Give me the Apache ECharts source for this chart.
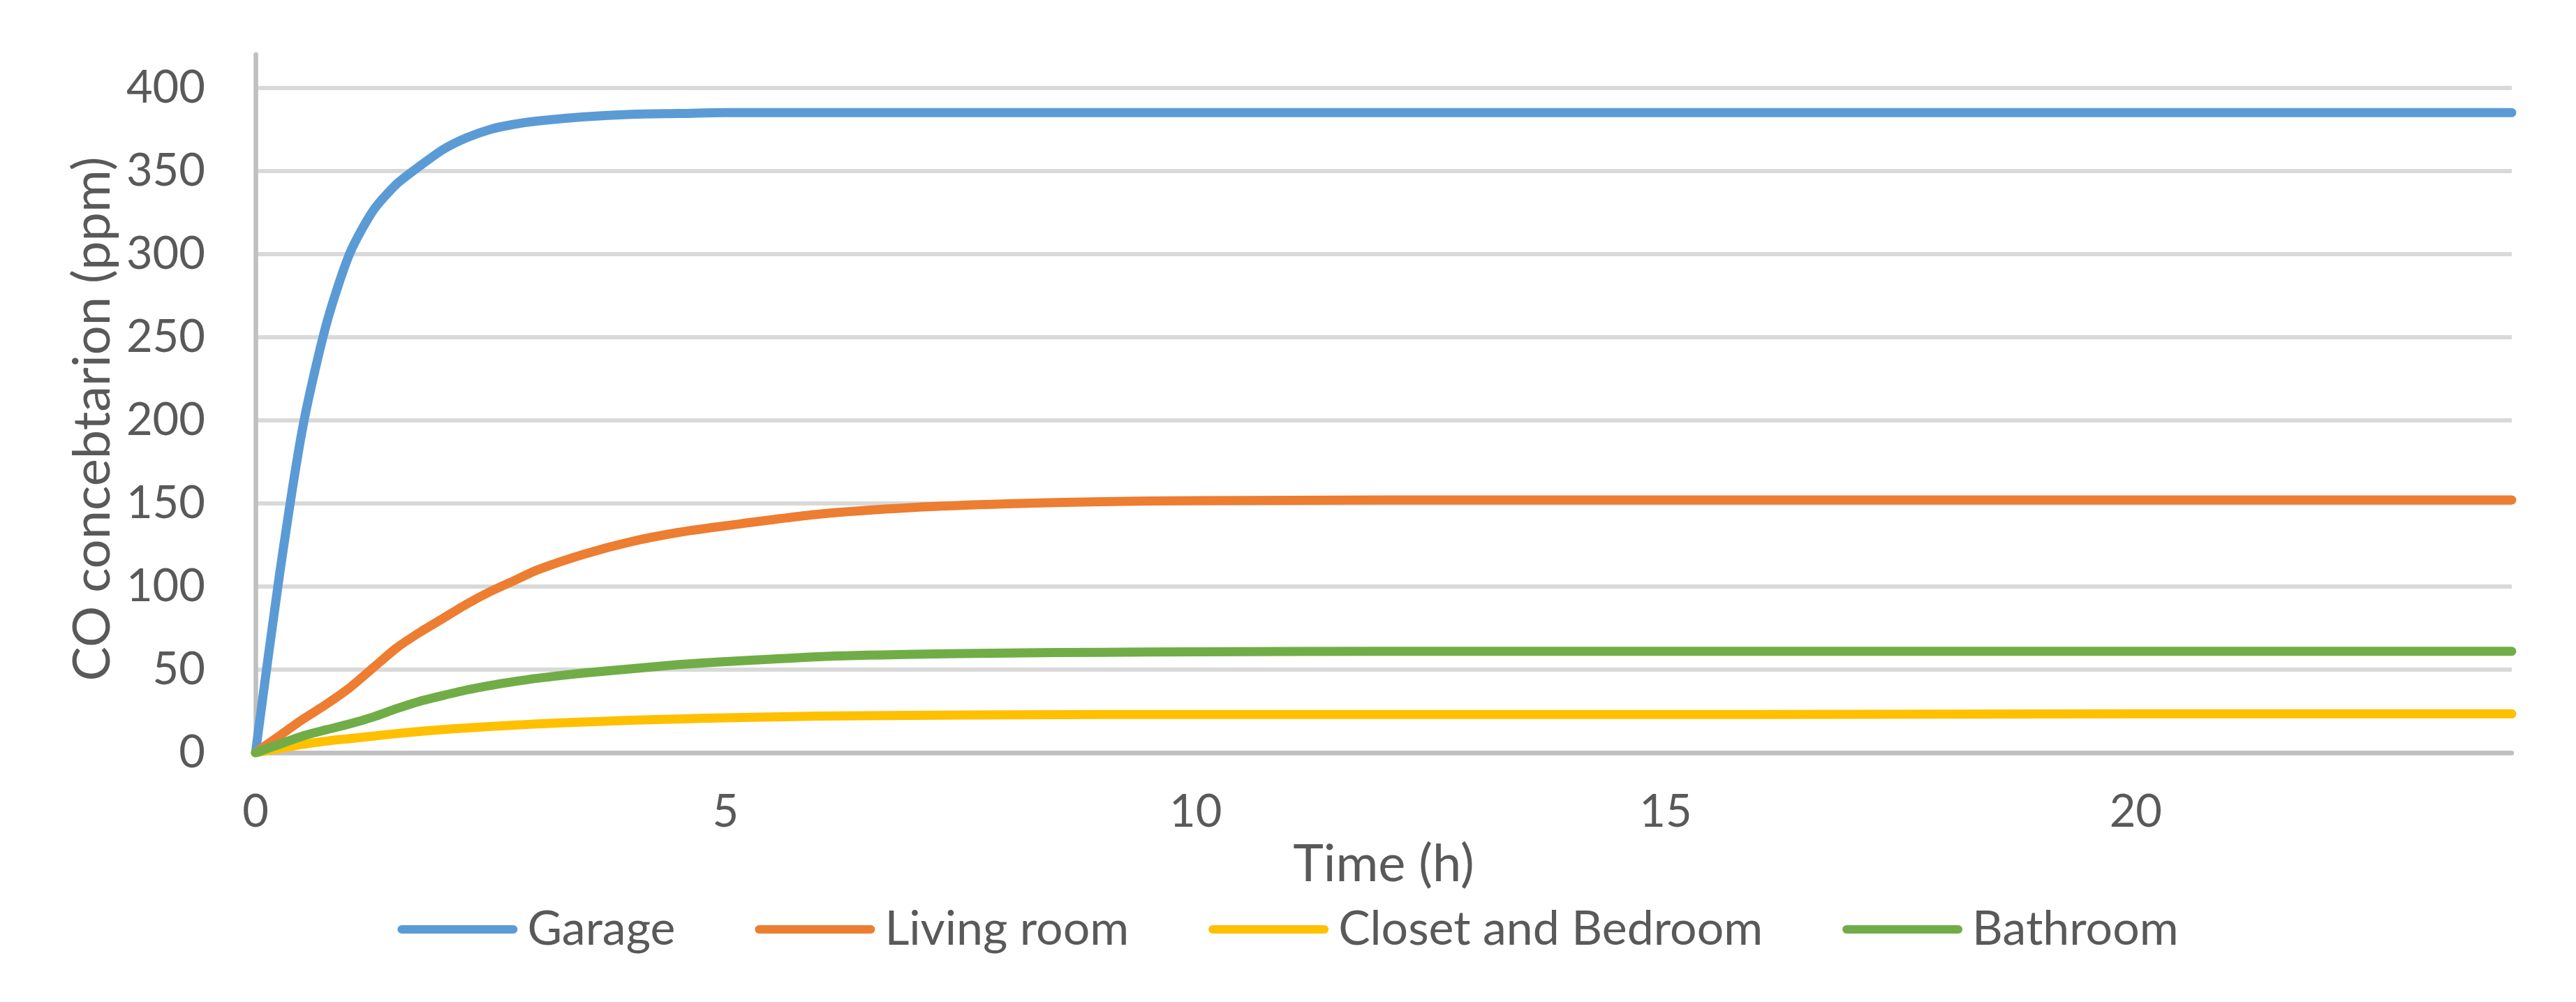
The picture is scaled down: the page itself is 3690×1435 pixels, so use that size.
<!DOCTYPE html>
<html>
<head>
<meta charset="utf-8">
<title>CO concentration</title>
<script src="https://cdn.jsdelivr.net/npm/echarts@6/dist/echarts.min.js"></script>
<style>
    html, body { margin: 0; padding: 0; background: #fff; }
    #main { width: 3690px; height: 1435px; }
</style>
</head>
<body>
<div id="main"></div>
<script>
    // 时间 (h)
    var times = [0, 0.25, 0.5, 0.75, 1, 1.25, 1.5, 1.75, 2, 2.25, 2.5, 2.75, 3, 3.5, 4, 4.5, 5, 6, 7, 8, 9, 10, 12, 14, 16, 18, 20, 22, 24];

    // CO 浓度 (ppm)
    var garage = [0, 105, 195, 257, 300, 326, 342, 353, 363, 370, 375, 378, 380, 382.5, 384, 384.5, 385, 385, 385, 385, 385, 385, 385, 385, 385, 385, 385, 385, 385];
    var livingRoom = [0, 10, 20, 29, 39, 51, 63, 72.5, 81, 89.5, 97, 103.5, 110, 119.5, 127, 132.5, 136.5, 143.5, 147.5, 149.7, 151, 151.6, 152, 152, 152, 152, 152, 152, 152];
    var closetBedroom = [0, 2.5, 5, 7, 8.5, 10, 11.5, 12.8, 14, 14.9, 15.8, 16.6, 17.3, 18.5, 19.5, 20.3, 21, 22, 22.5, 22.8, 23, 23, 23, 23, 23, 23.2, 23.4, 23.4, 23.4];
    var bathroom = [0, 5, 10, 13.8, 17.3, 21.5, 26.5, 31, 34.5, 37.8, 40.5, 42.8, 44.8, 48, 50.5, 53, 54.8, 57.8, 59.2, 60, 60.4, 60.7, 61, 61, 61, 61, 61, 61, 61];

    var seriesNames = ['Garage', 'Living room', 'Closet and Bedroom', 'Bathroom'];
    var seriesColors = ['#5B9BD5', '#ED7D31', '#FFC000', '#70AD47'];
    var seriesValues = [garage, livingRoom, closetBedroom, bathroom];

    var font = 'Lato, "Open Sans", sans-serif';
    var textColor = '#595959';

    function toPairs(values) {
        var arr = [];
        for (var i = 0; i < times.length; i++) {
            arr.push([times[i], values[i]]);
        }
        return arr;
    }

    var series = [];
    for (var i = 0; i < seriesNames.length; i++) {
        series.push({
            name: seriesNames[i],
            type: 'line',
            data: toPairs(seriesValues[i]),
            symbol: 'none',
            showSymbol: false,
            smooth: 0.25,
            color: seriesColors[i],
            itemStyle: { color: seriesColors[i] },
            lineStyle: { width: 13, color: seriesColors[i], cap: 'round', join: 'round' }
        });
    }

    var myChart = echarts.init(document.getElementById('main'));
    var option = {
        animation: false,
        backgroundColor: '#fff',
        textStyle: { fontFamily: font, color: textColor },
        grid: {
            left: 366,
            right: 92,
            top: 78,
            bottom: 357,
            containLabel: false,
            outerBoundsMode: 'none'
        },
        legend: {
            data: seriesNames,
            left: 'center',
            top: 1292,
            // 圆头粗线图例
            icon: 'path://M6,0 L166,0 A6,6 0 0 1 166,12 L6,12 A6,6 0 0 1 6,0 Z',
            itemWidth: 172,
            itemHeight: 13,
            itemGap: 114,
            textStyle: { fontFamily: font, fontSize: 68, color: textColor, padding: [0, 0, 0, 9] }
        },
        xAxis: {
            type: 'value',
            min: 0,
            max: 24,
            interval: 5,
            name: 'Time (h)',
            nameLocation: 'middle',
            nameGap: 95,
            nameTextStyle: { fontFamily: font, fontSize: 74, color: textColor },
            axisLine: { show: true, onZero: false, lineStyle: { color: '#BFBFBF', width: 6.5 } },
            axisTick: { show: false },
            splitLine: { show: false },
            axisLabel: { fontFamily: font, fontSize: 65, color: textColor, margin: 53, showMaxLabel: false }
        },
        yAxis: {
            type: 'value',
            min: 0,
            max: 420,
            interval: 50,
            name: 'CO concebtarion (ppm)',
            nameLocation: 'middle',
            nameGap: 177,
            nameTextStyle: { fontFamily: font, fontSize: 74, color: textColor, padding: [0, 44, 0, 0] },
            axisLine: { show: true, lineStyle: { color: '#BFBFBF', width: 6.5 } },
            axisTick: { show: false },
            splitLine: { show: true, showMaxLine: false, lineStyle: { color: '#D9D9D9', width: 6 } },
            axisLabel: { fontFamily: font, fontSize: 65, color: textColor, margin: 72, showMaxLabel: false }
        },
        series: series
    };
    myChart.setOption(option);
</script>
</body>
</html>
